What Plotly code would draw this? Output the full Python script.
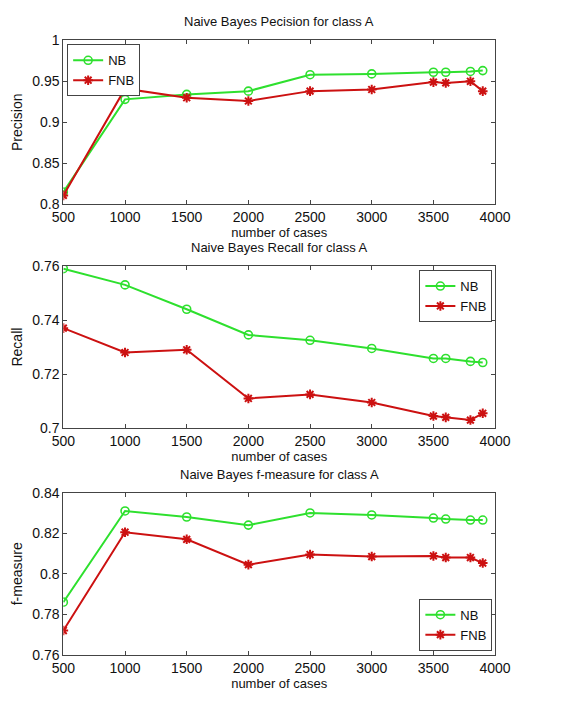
import plotly.graph_objects as go

cases = [500, 1000, 1500, 2000, 2500, 3000, 3500, 3600, 3800, 3900]

prec_nb = [0.815, 0.928, 0.934, 0.938, 0.958, 0.959, 0.961, 0.961, 0.962, 0.963]
prec_fnb = [0.811, 0.941, 0.930, 0.926, 0.938, 0.940, 0.949, 0.948, 0.950, 0.938]

rec_nb = [0.759, 0.753, 0.744, 0.7345, 0.7325, 0.7295, 0.7258, 0.7258, 0.7247, 0.7243]
rec_fnb = [0.737, 0.728, 0.729, 0.711, 0.7125, 0.7095, 0.7045, 0.704, 0.703, 0.7055]

f_nb = [0.786, 0.831, 0.828, 0.824, 0.830, 0.829, 0.8275, 0.827, 0.8265, 0.8265]
f_fnb = [0.772, 0.8205, 0.817, 0.8045, 0.8095, 0.8085, 0.8088, 0.808, 0.808, 0.8053]

titles = ["Naive Bayes Pecision for class A",
          "Naive Bayes Recall for class A",
          "Naive Bayes f-measure for class A"]
ylabels = ["Precision", "Recall", "f-measure"]
yranges = [[0.8, 1.0], [0.7, 0.76], [0.76, 0.84]]
yticks = [[0.8, 0.85, 0.9, 0.95, 1], [0.7, 0.72, 0.74, 0.76], [0.76, 0.78, 0.8, 0.82, 0.84]]
yticktext = [["0.8", "0.85", "0.9", "0.95", "1"], ["0.7", "0.72", "0.74", "0.76"],
             ["0.76", "0.78", "0.8", "0.82", "0.84"]]
xticks = [500, 1000, 1500, 2000, 2500, 3000, 3500, 4000]

W, H = 571, 701
xl, xr = 54 / W, 508 / W
ydom = [(1 - 201 / H, 1 - 33 / H), (1 - 430 / H, 1 - 264 / H), (1 - 662 / H, 1 - 496 / H)]

GREEN = "#2ee02e"
RED = "#cc1111"
FONT = "Liberation Sans, Arial, sans-serif"

fig = go.Figure()
series = [(prec_nb, prec_fnb), (rec_nb, rec_fnb), (f_nb, f_fnb)]
legend_names = ["legend", "legend2", "legend3"]
for i, (nb, fnb) in enumerate(series):
    xa = "x" if i == 0 else f"x{i+1}"
    ya = "y" if i == 0 else f"y{i+1}"
    fig.add_trace(go.Scatter(x=cases, y=nb, name="NB", xaxis=xa, yaxis=ya, mode="lines+markers",
                             line=dict(color=GREEN, width=2),
                             marker=dict(symbol="circle-open", size=8, color=GREEN, line=dict(width=1.6, color=GREEN)),
                             legend=legend_names[i]))
    fig.add_trace(go.Scatter(x=cases, y=fnb, name="FNB", xaxis=xa, yaxis=ya, mode="lines+markers",
                             line=dict(color=RED, width=2),
                             marker=dict(symbol="asterisk-open", size=8, color=RED, line=dict(width=2, color=RED)),
                             legend=legend_names[i]))

axcommon = dict(showline=True, linecolor="#444", linewidth=1, mirror="ticks", ticks="inside",
                ticklen=4, tickcolor="#444", showgrid=False, zeroline=False,
                tickfont=dict(family=FONT, size=14, color="#111"))
layout = dict(width=W, height=H, margin=dict(l=0, r=0, t=0, b=0),
              paper_bgcolor="white", plot_bgcolor="white", font=dict(family=FONT, color="#111"))
for i in range(3):
    sx = "xaxis" if i == 0 else f"xaxis{i+1}"
    sy = "yaxis" if i == 0 else f"yaxis{i+1}"
    ya = "y" if i == 0 else f"y{i+1}"
    xa = "x" if i == 0 else f"x{i+1}"
    layout[sx] = dict(domain=[xl, xr], anchor=ya, range=[500, 4000], tickvals=xticks,
                      title=dict(text="number of cases", font=dict(family=FONT, size=13), standoff=0),
                      **axcommon)
    layout[sy] = dict(domain=list(ydom[i]), anchor=xa, range=yranges[i], tickvals=yticks[i],
                      ticktext=yticktext[i],
                      title=dict(text=ylabels[i], font=dict(family=FONT, size=14), standoff=6),
                      **axcommon)

legstyle = dict(bgcolor="white", bordercolor="#444", borderwidth=1,
                font=dict(family=FONT, size=13, color="#111"), tracegroupgap=0, itemwidth=30)
layout["legend"] = dict(x=xl + 0.007, y=ydom[0][1] - 0.006, xanchor="left", yanchor="top", **legstyle)
layout["legend2"] = dict(x=xr - 0.005, y=ydom[1][1] - 0.006, xanchor="right", yanchor="top", **legstyle)
layout["legend3"] = dict(x=xr - 0.005, y=ydom[2][0] + 0.006, xanchor="right", yanchor="bottom", **legstyle)

annotations = []
for i in range(3):
    annotations.append(dict(text=titles[i], x=(xl + xr) / 2, y=ydom[i][1] + 9 / H, xref="paper", yref="paper",
                            xanchor="center", yanchor="bottom", showarrow=False,
                            font=dict(family=FONT, size=13, color="#111")))
layout["annotations"] = annotations
fig.update_layout(**layout)
fig.write_html("out.html")
